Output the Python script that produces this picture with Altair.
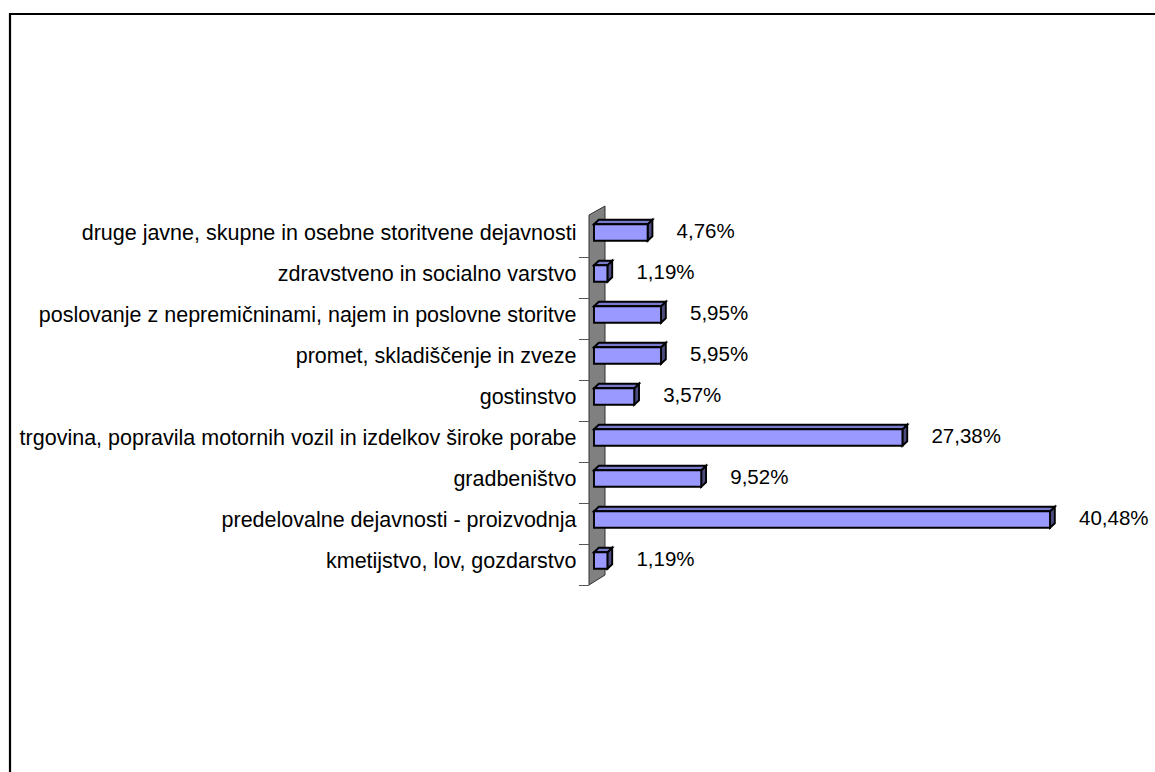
import altair as alt
import pandas as pd

# ---- data (top to bottom, as in the reference) ----
categories = [
    "druge javne, skupne in osebne storitvene dejavnosti",
    "zdravstveno in socialno varstvo",
    "poslovanje z nepremičninami, najem in poslovne storitve",
    "promet, skladiščenje in zveze",
    "gostinstvo",
    "trgovina, popravila motornih vozil in izdelkov široke porabe",
    "gradbeništvo",
    "predelovalne dejavnosti - proizvodnja",
    "kmetijstvo, lov, gozdarstvo",
]
values = [4.76, 1.19, 5.95, 5.95, 3.57, 27.38, 9.52, 40.48, 1.19]

# ---- layout constants (pixels) ----
PAD_LEFT, PAD_TOP = 594, 212
PLOT_W, PLOT_H = 1155 - PAD_LEFT, 369
X_MAX = 49.8
N = len(categories)
PX_X = X_MAX / PLOT_W          # data units per pixel (x)
PX_Y = N / PLOT_H              # data units per pixel (y)
HB = 8.25 * PX_Y               # half bar height
DXU = 4.8 * PX_X               # 3D depth, x
DYU = 4.5 * PX_Y               # 3D depth, y

FONT = "Liberation Sans"
FRONT = "#9999FF"
TOP = "#7A7ACC"
SIDE = "#4C4C80"
SW = 1.9

xs = alt.Scale(domain=[0, X_MAX], nice=False, zero=False)
ys = alt.Scale(domain=[-0.5, N - 0.5], nice=False, zero=False)

names_by_r = list(reversed(categories))
label_expr = "[" + ",".join("'" + n + "'" for n in names_by_r) + "][datum.value]"
y_axis = alt.Axis(
    values=list(range(N)), labelExpr=label_expr, title=None,
    ticks=False, tickSize=0, domain=False, grid=False,
    labelPadding=18, labelFontSize=21.5, labelFont=FONT,
    labelColor="black", labelAlign="right", labelBaseline="middle",
    labelOffset=1, labelLimit=800)

rows = []
for i, (c, v) in enumerate(zip(categories, values)):
    r = N - 1 - i
    rows.append({"cat": c, "r": r, "val": v, "x0": 0.0,
                 "lo": r - HB, "hi": r + HB,
                 "label": f"{v:.2f}".replace(".", ",") + "%"})
bars = pd.DataFrame(rows)


def face_chart(df, fill):
    return alt.Chart(df).mark_area(
        orient="vertical", fill=fill, stroke="black", strokeWidth=SW,
        interpolate="linear", strokeJoin="miter"
    ).encode(
        x=alt.X("x:Q", scale=xs, axis=None),
        y=alt.Y("t:Q", scale=ys, axis=y_axis, stack=None),
        y2="b:Q",
    )


face_layers = []
for b in rows:
    r, v = b["r"], b["val"]
    top_df = pd.DataFrame([
        {"x": 0.0, "t": r + HB, "b": r + HB},
        {"x": DXU, "t": r + HB + DYU, "b": r + HB},
        {"x": v, "t": r + HB + DYU, "b": r + HB},
        {"x": v + DXU, "t": r + HB + DYU, "b": r + HB + DYU},
    ])
    side_df = pd.DataFrame([
        {"x": v, "t": r + HB, "b": r - HB},
        {"x": v + DXU, "t": r + HB + DYU, "b": r - HB + DYU},
    ])
    face_layers.append(face_chart(side_df, SIDE))
    face_layers.append(face_chart(top_df, TOP))


def ry(py):
    return (N - 0.5) - (py - PAD_TOP) * PX_Y


wall_df = pd.DataFrame([
    {"x": -5 * PX_X, "t": ry(215), "b": ry(585)},
    {"x": 11 * PX_X, "t": ry(206), "b": ry(575)},
])

tick_df = pd.DataFrame([
    {"x": -15 * PX_X, "x2": -5 * PX_X, "y": (r - 0.5) - 4.5 * PX_Y}
    for r in range(N)
])

border = alt.Chart(pd.DataFrame({"a": [0]})).mark_rect(
    fill=None, stroke="black", strokeWidth=2.2
).encode(
    x=alt.value(10 - PAD_LEFT), x2=alt.value(PLOT_W + 40),
    y=alt.value(14 - PAD_TOP), y2=alt.value(772 - PAD_TOP + 40),
)

wall = alt.Chart(wall_df).mark_area(
    orient="vertical", fill="#808080", stroke="#333333", strokeWidth=1
).encode(
    x=alt.X("x:Q", scale=xs, axis=None),
    y=alt.Y("t:Q", scale=ys, axis=y_axis, stack=None),
    y2="b:Q",
)

ticks = alt.Chart(tick_df).mark_rule(color="#555555", strokeWidth=1).encode(
    x=alt.X("x:Q", scale=xs, axis=None),
    x2="x2:Q",
    y=alt.Y("y:Q", scale=ys, axis=y_axis),
)

front = alt.Chart(bars).mark_rect(
    fill=FRONT, stroke="black", strokeWidth=SW
).encode(
    x=alt.X("x0:Q", scale=xs, axis=None),
    x2="val:Q",
    y=alt.Y("lo:Q", scale=ys, axis=y_axis),
    y2="hi:Q",
)

text = alt.Chart(bars).mark_text(
    align="left", baseline="middle", dx=29, dy=-1,
    fontSize=20.5, font=FONT, color="black"
).encode(
    x=alt.X("val:Q", scale=xs, axis=None),
    y=alt.Y("r:Q", scale=ys, axis=y_axis),
    text="label:N",
)

chart = alt.layer(border, wall, ticks, *face_layers, front, text).properties(
    width=PLOT_W, height=PLOT_H,
    autosize=alt.AutoSizeParams(type="none"),
    padding={"left": PAD_LEFT, "top": PAD_TOP, "right": 0,
             "bottom": 772 - PAD_TOP - PLOT_H},
    background="white",
).configure_view(stroke=None)

chart.save("out.html", embed_options={"renderer": "svg", "actions": False})
